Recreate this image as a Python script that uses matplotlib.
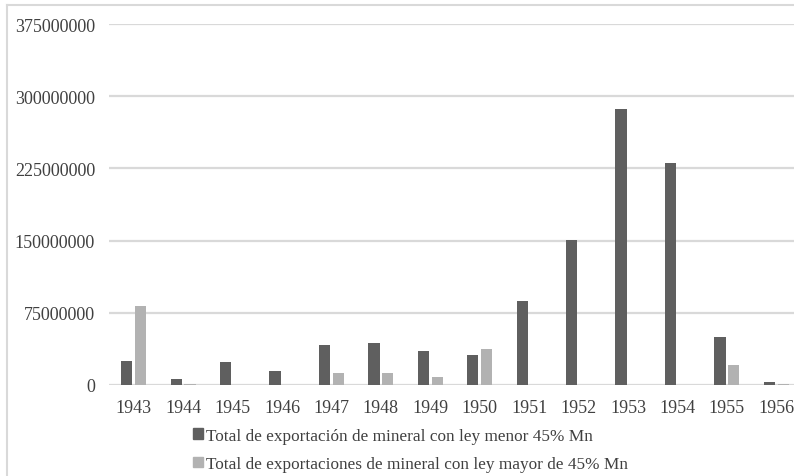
import numpy as np
import matplotlib
matplotlib.use("Agg")
import matplotlib.pyplot as plt
from matplotlib.patches import Patch
from matplotlib.lines import Line2D

years = ["1943", "1944", "1945", "1946", "1947", "1948", "1949",
         "1950", "1951", "1952", "1953", "1954", "1955", "1956"]
menor = [25.0e6, 6.0e6, 24.0e6, 14.5e6, 41.5e6, 44.0e6, 35.6e6,
         31.5e6, 87.6e6, 150.6e6, 286.7e6, 230.3e6, 50.2e6, 3.1e6]
mayor = [82.0e6, 1.0e6, 0, 0, 12.5e6, 12.5e6, 8.3e6,
         37.4e6, 0, 0, 0, 0, 20.4e6, 1.4e6]
labels = ["Total de exportación de mineral con ley menor 45% Mn",
          "Total de exportaciones de mineral con ley mayor de 45% Mn"]

dark = "#5f5f5f"
light = "#b2b2b2"
grid = "#d9d9d9"

plt.rcParams["font.family"] = ["Liberation Serif", "DejaVu Serif"]

W, H = 794, 477
fig = plt.figure(figsize=(W / 100, H / 100), dpi=100)
ax = fig.add_axes([109 / W, 91 / H, 692 / W, 361 / H])

x = np.arange(len(years))
ax.bar(x - 0.14, menor, width=0.23, color=dark, zorder=3)
ax.bar(x + 0.14, mayor, width=0.23, color=light, zorder=3)

ax.set_xlim(-0.5, len(years) - 0.5)
ax.set_ylim(0, 375e6)
ax.set_yticks(np.arange(0, 375e6 + 1, 75e6))
ax.set_yticklabels([str(int(v)) for v in np.arange(0, 375e6 + 1, 75e6)])
ax.set_xticks(x)
ax.set_xticklabels(years)
ax.yaxis.grid(True, color=grid, linewidth=1.6, zorder=0)
ax.set_axisbelow(True)
for s in ax.spines.values():
    s.set_visible(False)
ax.tick_params(axis="both", length=0, labelsize=13, colors="#404040")
ax.tick_params(axis="y", pad=10)
ax.tick_params(axis="x", pad=10)

# chart area border (left and top)
fig.add_artist(Line2D([7 / W, 7 / W], [0, 1 - 6 / H], color=grid, linewidth=1.5))
fig.add_artist(Line2D([7 / W, 1], [1 - 6 / H, 1 - 6 / H], color=grid, linewidth=1.5))

handles = [Patch(color=dark), Patch(color=light)]
fig.legend(handles, labels, loc="upper left", bbox_to_anchor=(193 / W, 1 - 429 / H),
           frameon=False, fontsize=12.4, handlelength=0.6, handleheight=0.6,
           handletextpad=0.15, labelspacing=0.7, borderaxespad=0, borderpad=0,
           labelcolor="#404040")

fig.savefig("out.png", dpi=100)
